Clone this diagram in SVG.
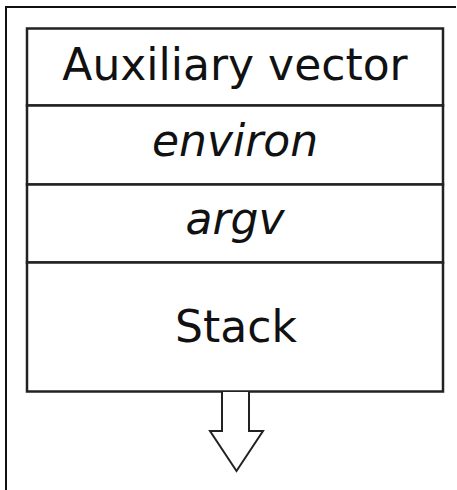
<svg xmlns="http://www.w3.org/2000/svg" width="457" height="490" viewBox="0 0 457 490">
<style>
.frame{stroke:#111;stroke-width:2;fill:none}
.box{stroke:#222;stroke-width:2.5;fill:#fff}
.t{font-family:"DejaVu Sans",sans-serif;font-size:44px;fill:#111;text-anchor:middle}
.i{font-style:italic}
</style>
<rect width="457" height="490" fill="#fff"/>
<path class="frame" d="M6,490 V7 H456"/>
<g id="aux"><rect class="box" x="27" y="28.5" width="416" height="77"/><text class="t" x="235" y="80">Auxiliary vector</text></g>
<g id="environ"><rect class="box" x="27" y="105.5" width="416" height="79"/><text class="t i" x="235" y="156">environ</text></g>
<g id="argv"><rect class="box" x="27" y="184.5" width="416" height="78"/><text class="t i" x="235" y="234">argv</text></g>
<g id="stack"><rect class="box" x="27" y="262.5" width="416" height="129"/><text class="t" x="236" y="342">Stack</text></g>
<g id="connectors"><path d="M222,392 V431 H210 L236.5,471 L263,431 H249 V392" fill="#fff" stroke="#222" stroke-width="2"/></g>
</svg>
